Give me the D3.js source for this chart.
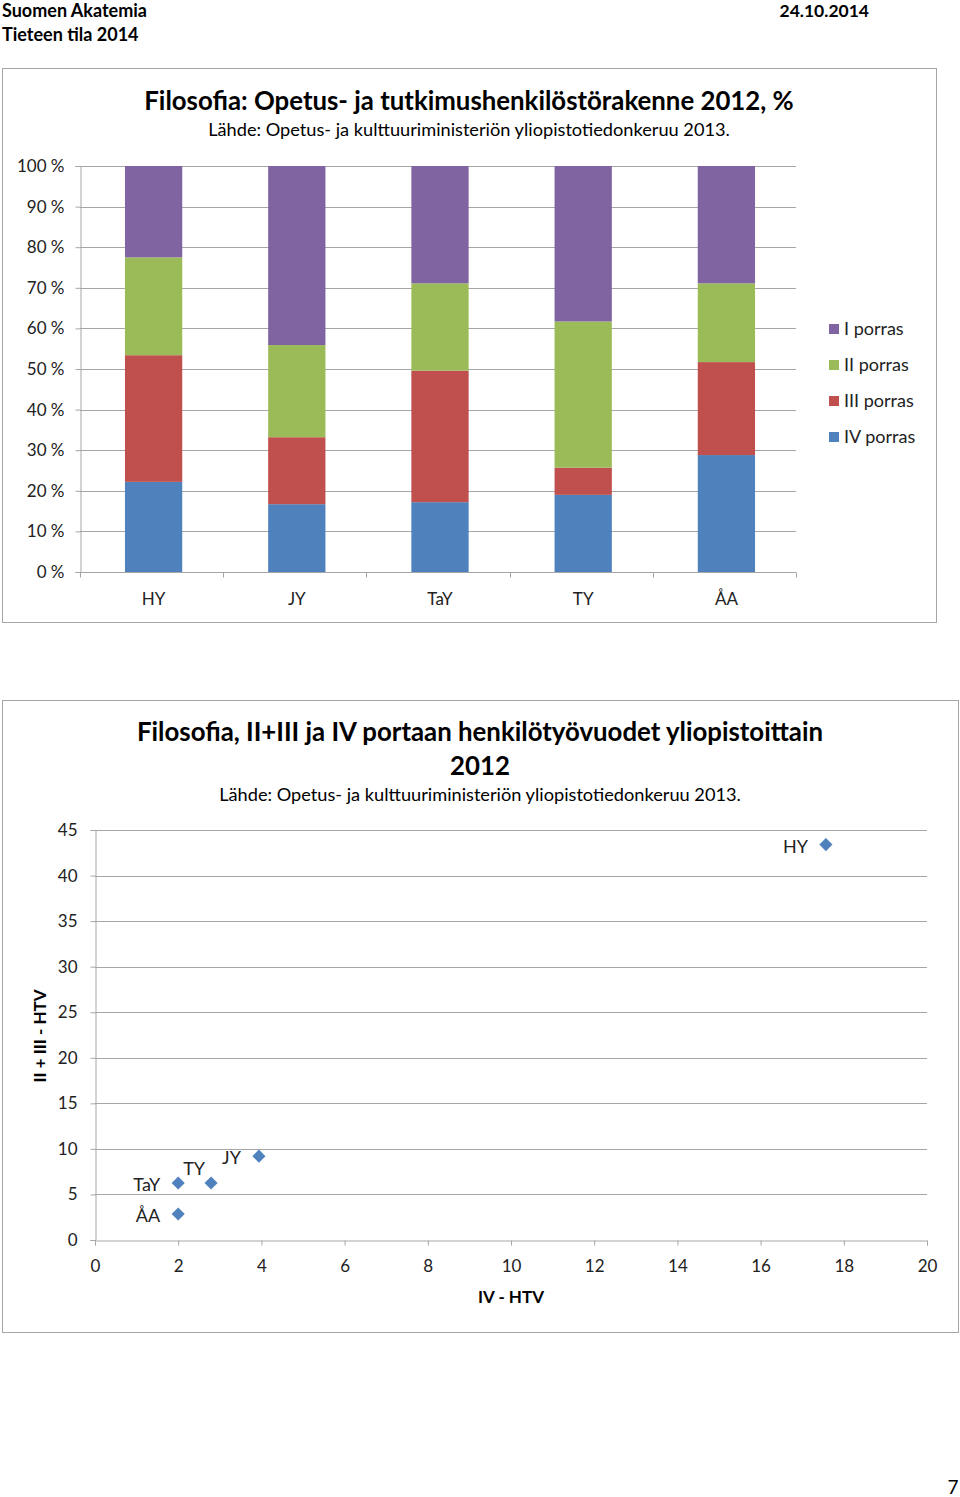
<!DOCTYPE html>
<html><head><meta charset="utf-8">
<script src="https://cdn.jsdelivr.net/npm/d3@7"></script>
<style>body{margin:0;background:#fff}svg{display:block}text{font-family:Lato,"Open Sans",sans-serif}</style>
</head><body>
<svg id="c" width="960" height="1497"></svg>
<script>
// ---- data ----
const universities = ["HY","JY","TaY","TY","ÅA"];
const seriesNames = ["IV porras","III porras","II porras","I porras"];
const porrasIV  = [22.2,16.7,17.2,19.0,28.8];
const porrasIII = [31.2,16.5,32.4,6.7,22.9];
const porrasII  = [24.1,22.7,21.5,36.0,19.4];
const porrasI   = [22.5,44.1,28.9,38.3,28.9];
const pctTicks = [0,10,20,30,40,50,60,70,80,90,100];

const scatterNames = ["HY","JY","TY","TaY","ÅA"];
const ivHTV   = [17.57,3.94,2.79,2.0,2.0];
const iiiiHTV = [43.4,9.2,6.26,6.26,2.85];
const xTicks = [0,2,4,6,8,10,12,14,16,18,20];
const yTicks = [0,5,10,15,20,25,30,35,40,45];

const colors = {"I porras":"#8064a2","II porras":"#9bbb59","III porras":"#c0504d","IV porras":"#4f81bd"};
const gridC = "#a6a6a6";

const svg = d3.select("#c");

// header
svg.append("text").attr("x",2).attr("y",17).attr("font-size",18).attr("font-weight","bold").text("Suomen Akatemia");
svg.append("text").attr("x",2).attr("y",41).attr("font-size",18).attr("font-weight","bold").text("Tieteen tila 2014");
svg.append("text").attr("x",869).attr("y",17).attr("text-anchor","end").attr("font-size",17.5).attr("font-weight","bold").text("24.10.2014");
svg.append("text").attr("x",953).attr("y",1494).attr("text-anchor","middle").attr("font-size",19).text("7");

// ---- chart 1 ----
svg.append("rect").attr("x",2.5).attr("y",68.5).attr("width",934).attr("height",554).attr("fill","#fff").attr("stroke","#a6a6a6");
svg.append("text").attr("x",469).attr("y",110).attr("text-anchor","middle").attr("font-size",25.8).attr("font-weight","bold").text("Filosofia: Opetus- ja tutkimushenkilöstörakenne 2012, %");
svg.append("text").attr("x",469).attr("y",136).attr("text-anchor","middle").attr("font-size",18.2).text("Lähde: Opetus- ja kulttuuriministeriön yliopistotiedonkeruu 2013.");

const x1 = d3.scaleBand().domain(universities).range([81,797]).paddingInner(0.6).paddingOuter(0.3);
const y1 = d3.scaleLinear().domain([0,100]).range([572,166]);
const g1 = svg.append("g");
// gridlines
g1.selectAll("line.grid").data(pctTicks.slice(1)).join("line")
  .attr("x1",80).attr("x2",796).attr("y1",d=>Math.round(y1(d))+0.5).attr("y2",d=>Math.round(y1(d))+0.5)
  .attr("stroke",gridC).attr("stroke-width",1);
const rows = universities.map((u,i)=>({u,"IV porras":porrasIV[i],"III porras":porrasIII[i],"II porras":porrasII[i],"I porras":porrasI[i]}));
const stacked = d3.stack().keys(seriesNames)(rows);
g1.selectAll("g.s").data(stacked).join("g").attr("fill",d=>colors[d.key])
  .selectAll("rect").data(d=>d).join("rect")
  .attr("x",d=>x1(d.data.u)+1).attr("width",x1.bandwidth())
  .attr("y",d=>y1(d[1])).attr("height",d=>y1(d[0])-y1(d[1]));
// y axis
const ya = g1.append("g").attr("transform","translate(80.5,0)")
  .call(d3.axisLeft(y1).tickValues(pctTicks).tickFormat(d=>d+" %").tickSize(5).tickPadding(11));
ya.select(".domain").attr("stroke",gridC);
ya.selectAll(".tick line").attr("stroke",gridC);
ya.selectAll("text").attr("font-size",17).attr("fill","#222").attr("font-family","Lato");
// x axis
const xa = g1.append("g").attr("transform","translate(0,572.5)");
xa.append("line").attr("x1",80).attr("x2",796).attr("stroke",gridC);
const bounds = d3.range(universities.length+1).map(i=>80 + i*(716/universities.length));
xa.selectAll("line.t").data(bounds).join("line").attr("x1",d=>Math.round(d)+0.5).attr("x2",d=>Math.round(d)+0.5).attr("y1",0).attr("y2",5).attr("stroke",gridC);
xa.selectAll("text").data(universities).join("text").attr("x",d=>x1(d)+1+x1.bandwidth()/2).attr("y",32)
  .attr("text-anchor","middle").attr("font-size",17).attr("fill","#222").text(d=>d);
// legend
const legOrder = ["I porras","II porras","III porras","IV porras"];
const leg = svg.append("g").selectAll("g").data(legOrder).join("g").attr("transform",(d,i)=>`translate(829,${324+i*36})`);
leg.append("rect").attr("width",10).attr("height",10).attr("fill",d=>colors[d]);
leg.append("text").attr("x",15).attr("y",11).attr("font-size",18).attr("fill","#222").text(d=>d);

// ---- chart 2 ----
svg.append("rect").attr("x",2.5).attr("y",700.5).attr("width",956).attr("height",632).attr("fill","#fff").attr("stroke","#a6a6a6");
svg.append("text").attr("x",480).attr("y",741).attr("text-anchor","middle").attr("font-size",25.8).attr("font-weight","bold").text("Filosofia, II+III ja IV portaan henkilötyövuodet yliopistoittain");
svg.append("text").attr("x",480).attr("y",775).attr("text-anchor","middle").attr("font-size",25.8).attr("font-weight","bold").text("2012");
svg.append("text").attr("x",480).attr("y",801).attr("text-anchor","middle").attr("font-size",18.2).text("Lähde: Opetus- ja kulttuuriministeriön yliopistotiedonkeruu 2013.");

const x2 = d3.scaleLinear().domain([0,20]).range([95,927]);
const y2 = d3.scaleLinear().domain([0,45]).range([1240,830]);
const g2 = svg.append("g");
g2.selectAll("line.grid").data(yTicks.slice(1)).join("line")
  .attr("x1",95).attr("x2",927).attr("y1",d=>Math.round(y2(d))+0.5).attr("y2",d=>Math.round(y2(d))+0.5).attr("stroke",gridC);
const ya2 = g2.append("g").attr("transform","translate(95.5,0)")
  .call(d3.axisLeft(y2).tickValues(yTicks).tickSize(5).tickPadding(13));
ya2.select(".domain").attr("stroke",gridC);
ya2.selectAll(".tick line").attr("stroke",gridC);
ya2.selectAll("text").attr("font-size",17).attr("fill","#222").attr("font-family","Lato");
const xa2 = g2.append("g").attr("transform","translate(0,1240.5)")
  .call(d3.axisBottom(x2).tickValues(xTicks).tickSize(5).tickPadding(14));
xa2.select(".domain").attr("stroke",gridC);
xa2.selectAll(".tick line").attr("stroke",gridC);
xa2.selectAll("text").attr("font-size",17).attr("fill","#222").attr("font-family","Lato");
svg.append("text").attr("x",511).attr("y",1303).attr("text-anchor","middle").attr("font-size",17).attr("font-weight","bold").text("IV - HTV");
svg.append("text").attr("transform","translate(46,1036) rotate(-90)").attr("text-anchor","middle").attr("font-size",17).attr("font-weight","bold").text("II + III - HTV");

const pts = scatterNames.map((n,i)=>({n,x:ivHTV[i],y:iiiiHTV[i]}));
const labelOffset = {"HY":[-18,2],"JY":[-18,2],"TY":[-6,-14],"TaY":[-18,2],"ÅA":[-18,2]};
g2.selectAll("path.pt").data(pts).join("path")
  .attr("transform",d=>`translate(${x2(d.x)},${y2(d.y)})`)
  .attr("d",d3.symbol().type(d3.symbolDiamond2).size(110)).attr("fill","#4f81bd");
g2.selectAll("text.lbl").data(pts).join("text")
  .attr("x",d=>x2(d.x)+labelOffset[d.n][0]).attr("y",d=>y2(d.y)+labelOffset[d.n][1]+6)
  .attr("text-anchor","end").attr("font-size",18).attr("fill","#222").text(d=>d.n);
</script>
</body></html>
